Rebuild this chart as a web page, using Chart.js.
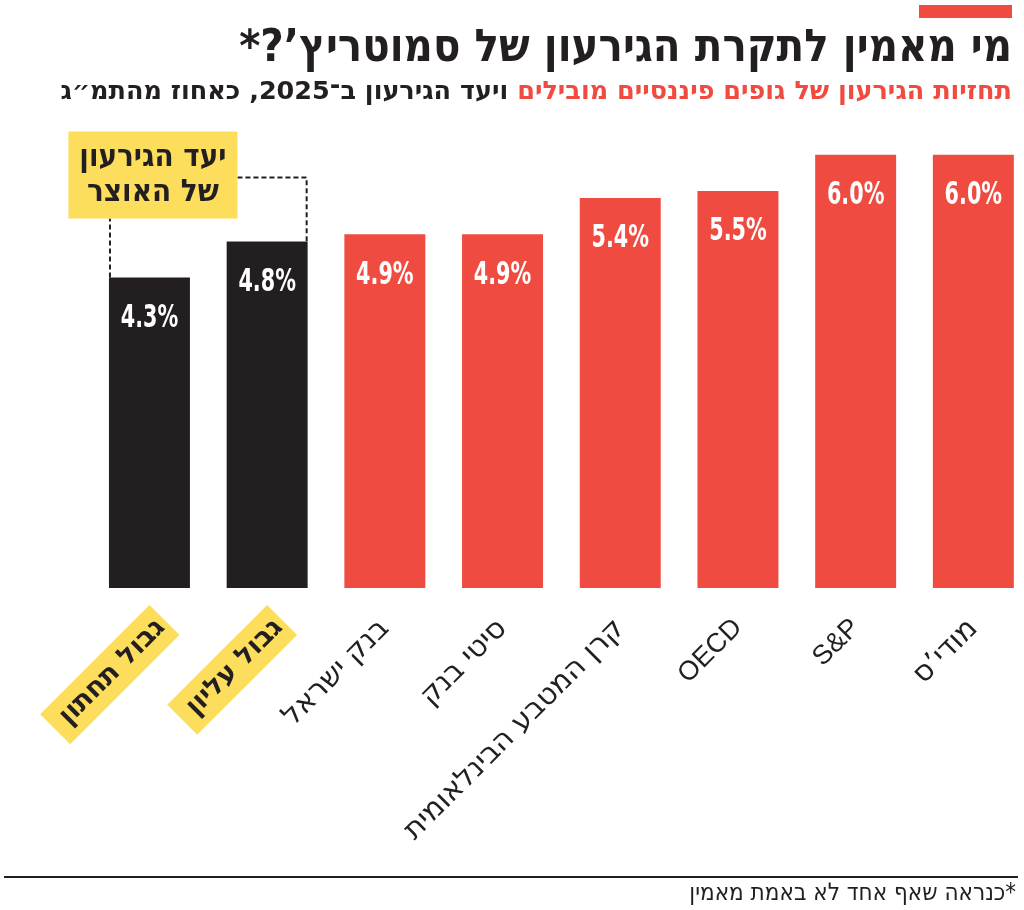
<!DOCTYPE html>
<html lang="he">
<head>
<meta charset="utf-8">
<script src="https://cdn.jsdelivr.net/npm/chart.js@4/dist/chart.umd.min.js"></script>
<style>
html,body{margin:0;padding:0;width:1024px;height:910px;overflow:hidden;background:#fff;}
#wrap{position:absolute;left:0;top:0;width:1040px;height:910px;}
.t{position:absolute;right:12px;white-space:nowrap;direction:rtl;color:#231f20;}
#topbar{position:absolute;left:919px;top:5px;width:93px;height:13px;background:#f04b40;}
#title{top:20px;font:bold 45px "DejaVu Sans Condensed","DejaVu Sans",sans-serif;line-height:52px;}
#sub{top:75px;font:bold 25.5px "DejaVu Sans",sans-serif;line-height:30px;}
#sub .r{color:#f04b40;}
#rule{position:absolute;left:4px;top:876px;width:1014px;height:2px;background:#231f20;}
#foot{top:878px;right:8px;font:24px "DejaVu Sans Condensed","DejaVu Sans",sans-serif;line-height:28px;}
</style>
</head>
<body>
<div id="wrap"><canvas id="c"></canvas></div>
<div id="topbar"></div>
<div class="t" id="title">מי מאמין לתקרת הגירעון של סמוטריץ’?*</div>
<div class="t" id="sub"><span class="r">תחזיות הגירעון של גופים פיננסיים מובילים</span> ויעד הגירעון ב־2025, כאחוז מהתמ״ג</div>
<div id="rule"></div>
<div class="t" id="foot">*כנראה שאף אחד לא באמת מאמין</div>
<script>
const categories = ['גבול תחתון','גבול עליון','בנק ישראל','סיטי בנק','קרן המטבע הבינלאומית','OECD','S&P','מודי’ס'];
const deficitPct = [4.3, 4.8, 4.9, 4.9, 5.4, 5.5, 6.0, 6.0];
const isTreasuryTarget = [true, true, false, false, false, false, false, false];
const targetNote = ['יעד הגירעון', 'של האוצר'];

const RED = '#f04b40', BLACK = '#231f20', YELLOW = '#fddd5c';
const COND = '"DejaVu Sans Condensed","DejaVu Sans",sans-serif';

const valueLabelPlugin = {
  id: 'valueLabels',
  afterDatasetsDraw(chart) {
    const ctx = chart.ctx;
    const meta = chart.getDatasetMeta(0);
    ctx.save();
    ctx.fillStyle = '#fff';
    ctx.font = 'bold 32px ' + COND;
    ctx.textAlign = 'center';
    ctx.textBaseline = 'middle';
    meta.data.forEach((el, i) => {
      ctx.save();
      ctx.translate(el.x, el.y + 41);
      ctx.scale(0.72, 1);
      ctx.fillText(deficitPct[i].toFixed(1) + '%', 0, 0);
      ctx.restore();
    });
    ctx.restore();
  }
};

const bracketPlugin = {
  id: 'bracket',
  afterDatasetsDraw(chart) {
    const ctx = chart.ctx;
    const meta = chart.getDatasetMeta(0);
    const b1 = meta.data[0], b2 = meta.data[1];
    const b1Left = b1.x - b1.width / 2;
    const b2Right = b2.x + b2.width / 2;
    const boxBottom = b1.y - 59, boxTop = boxBottom - 87;
    const boxLeft = b1.x - 81, boxRight = b1.x + 88;
    const lineY = b2.y - 64;
    ctx.save();
    ctx.strokeStyle = BLACK;
    ctx.lineWidth = 2;
    ctx.setLineDash([5, 3]);
    ctx.beginPath();
    ctx.moveTo(b1Left + 1, b1.y);
    ctx.lineTo(b1Left + 1, boxBottom);
    ctx.moveTo(boxRight, lineY);
    ctx.lineTo(b2Right - 1, lineY);
    ctx.lineTo(b2Right - 1, b2.y);
    ctx.stroke();
    ctx.setLineDash([]);
    ctx.fillStyle = YELLOW;
    ctx.fillRect(boxLeft, boxTop, boxRight - boxLeft, boxBottom - boxTop);
    ctx.fillStyle = BLACK;
    ctx.font = 'bold 31px ' + COND;
    ctx.textAlign = 'center';
    ctx.textBaseline = 'middle';
    const cx = (boxLeft + boxRight) / 2;
    ctx.fillText(targetNote[0], cx, boxTop + 26);
    ctx.fillText(targetNote[1], cx, boxTop + 61);
    ctx.restore();
  }
};

const isLatin = s => /^[A-Za-z&]+$/.test(s);

new Chart(document.getElementById('c'), {
  type: 'bar',
  data: {
    labels: categories,
    datasets: [{
      data: deficitPct,
      backgroundColor: isTreasuryTarget.map(t => t ? BLACK : RED),
      borderWidth: 0,
      categoryPercentage: 1,
      barPercentage: 0.688
    }]
  },
  options: {
    responsive: true,
    maintainAspectRatio: false,
    animation: false,
    devicePixelRatio: 1,
    layout: { padding: { left: 90.6, right: 7.8, top: 118.7, bottom: 0 } },
    plugins: { legend: { display: false }, tooltip: { enabled: false } },
    scales: {
      y: { display: false, min: 0, max: 6.5 },
      x: {
        grid: { display: false, drawTicks: false },
        border: { display: false },
        afterFit: s => { s.height = 322; },
        ticks: {
          autoSkip: false,
          minRotation: 45,
          maxRotation: 45,
          padding: 24,
          color: BLACK,
          font: ctx => {
            if (ctx.index < 2) return { family: '"DejaVu Sans",sans-serif', weight: 'bold', size: 27 };
            const lab = categories[ctx.index];
            return isLatin(lab)
              ? { family: '"Liberation Sans",Arial,sans-serif', weight: 'normal', size: 27 }
              : { family: '"DejaVu Sans",sans-serif', weight: 'normal', size: 29 };
          },
          showLabelBackdrop: ctx => ctx.index < 2,
          backdropColor: YELLOW,
          backdropPadding: { top: 5, bottom: 5, left: 12, right: 5 }
        }
      }
    }
  },
  plugins: [valueLabelPlugin, bracketPlugin]
});
</script>
</body>
</html>
